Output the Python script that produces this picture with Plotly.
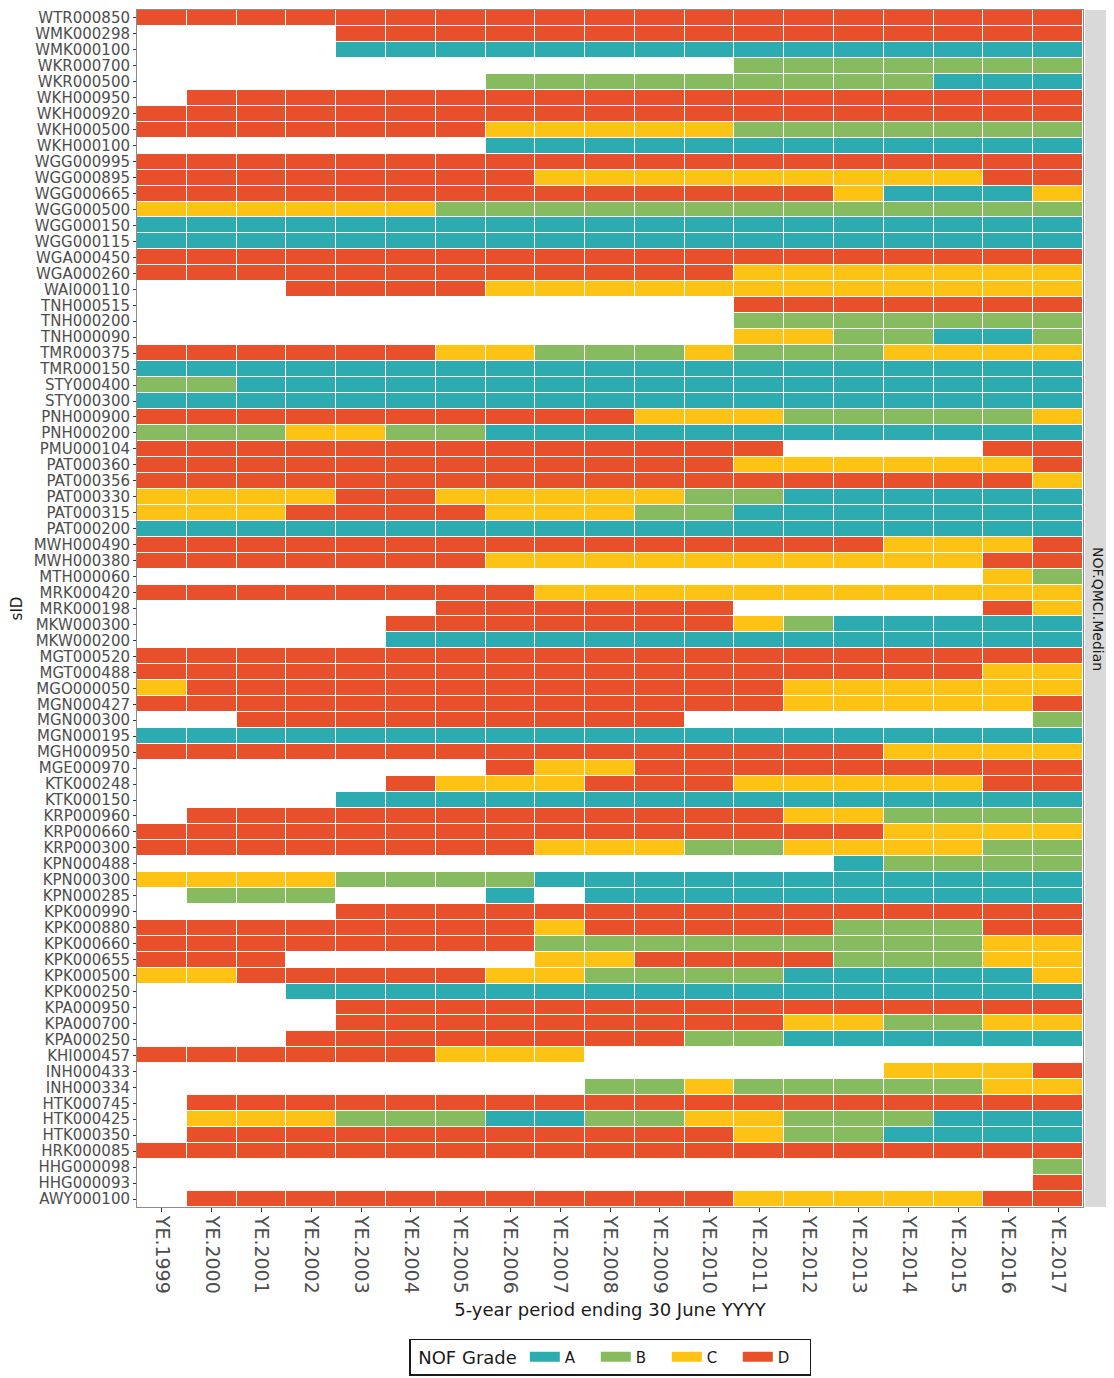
import plotly.graph_objects as go

site_ids = [
    "WTR000850", "WMK000298", "WMK000100", "WKR000700", "WKR000500", "WKH000950",
    "WKH000920", "WKH000500", "WKH000100", "WGG000995", "WGG000895", "WGG000665",
    "WGG000500", "WGG000150", "WGG000115", "WGA000450", "WGA000260", "WAI000110",
    "TNH000515", "TNH000200", "TNH000090", "TMR000375", "TMR000150", "STY000400",
    "STY000300", "PNH000900", "PNH000200", "PMU000104", "PAT000360", "PAT000356",
    "PAT000330", "PAT000315", "PAT000200", "MWH000490", "MWH000380", "MTH000060",
    "MRK000420", "MRK000198", "MKW000300", "MKW000200", "MGT000520", "MGT000488",
    "MGO000050", "MGN000427", "MGN000300", "MGN000195", "MGH000950", "MGE000970",
    "KTK000248", "KTK000150", "KRP000960", "KRP000660", "KRP000300", "KPN000488",
    "KPN000300", "KPN000285", "KPK000990", "KPK000880", "KPK000660", "KPK000655",
    "KPK000500", "KPK000250", "KPA000950", "KPA000700", "KPA000250", "KHI000457",
    "INH000433", "INH000334", "HTK000745", "HTK000425", "HTK000350", "HRK000085",
    "HHG000098", "HHG000093", "AWY000100",
]

periods = ["YE.%d" % y for y in range(1999, 2018)]

# One string per site, one character per period ('.' = no grade)
grades = [
    "DDDDDDDDDDDDDDDDDDD",  # WTR000850
    "....DDDDDDDDDDDDDDD",  # WMK000298
    "....AAAAAAAAAAAAAAA",  # WMK000100
    "............BBBBBBB",  # WKR000700
    ".......BBBBBBBBBAAA",  # WKR000500
    ".DDDDDDDDDDDDDDDDDD",  # WKH000950
    "DDDDDDDDDDDDDDDDDDD",  # WKH000920
    "DDDDDDDCCCCCBBBBBBB",  # WKH000500
    ".......AAAAAAAAAAAA",  # WKH000100
    "DDDDDDDDDDDDDDDDDDD",  # WGG000995
    "DDDDDDDDCCCCCCCCCDD",  # WGG000895
    "DDDDDDDDDDDDDDCAAAC",  # WGG000665
    "CCCCCCBBBBBBBBBBBBB",  # WGG000500
    "AAAAAAAAAAAAAAAAAAA",  # WGG000150
    "AAAAAAAAAAAAAAAAAAA",  # WGG000115
    "DDDDDDDDDDDDDDDDDDD",  # WGA000450
    "DDDDDDDDDDDDCCCCCCC",  # WGA000260
    "...DDDDCCCCCCCCCCCC",  # WAI000110
    "............DDDDDDD",  # TNH000515
    "............BBBBBBB",  # TNH000200
    "............CCBBAAB",  # TNH000090
    "DDDDDDCCBBBCBBBCCCC",  # TMR000375
    "AAAAAAAAAAAAAAAAAAA",  # TMR000150
    "BBAAAAAAAAAAAAAAAAA",  # STY000400
    "AAAAAAAAAAAAAAAAAAA",  # STY000300
    "DDDDDDDDDDCCCBBBBBC",  # PNH000900
    "BBBCCBBAAAAAAAAAAAA",  # PNH000200
    "DDDDDDDDDDDDD....DD",  # PMU000104
    "DDDDDDDDDDDDCCCCCCD",  # PAT000360
    "DDDDDDDDDDDDDDDDDDC",  # PAT000356
    "CCCCDDCCCCCBBAAAAAA",  # PAT000330
    "CCCDDDDCCCBBAAAAAAA",  # PAT000315
    "AAAAAAAAAAAAAAAAAAA",  # PAT000200
    "DDDDDDDDDDDDDDDCCCD",  # MWH000490
    "DDDDDDDCCCCCCCCCCDD",  # MWH000380
    ".................CB",  # MTH000060
    "DDDDDDDDCCCCCCCCCCC",  # MRK000420
    "......DDDDDD.....DC",  # MRK000198
    ".....DDDDDDDCBAAAAA",  # MKW000300
    ".....AAAAAAAAAAAAAA",  # MKW000200
    "DDDDDDDDDDDDDDDDDDD",  # MGT000520
    "DDDDDDDDDDDDDDDDDCC",  # MGT000488
    "CDDDDDDDDDDDDCCCCCC",  # MGO000050
    "DDDDDDDDDDDDDCCCCCD",  # MGN000427
    "..DDDDDDDDD.......B",  # MGN000300
    "AAAAAAAAAAAAAAAAAAA",  # MGN000195
    "DDDDDDDDDDDDDDDCCCC",  # MGH000950
    ".......DCCDDDDDDDDD",  # MGE000970
    ".....DCCCDDDCCCCCDD",  # KTK000248
    "....AAAAAAAAAAAAAAA",  # KTK000150
    ".DDDDDDDDDDDDCCBBBB",  # KRP000960
    "DDDDDDDDDDDDDDDCCCC",  # KRP000660
    "DDDDDDDDCCCBBCCCCBB",  # KRP000300
    "..............ABBBB",  # KPN000488
    "CCCCBBBBAAAAAAAAAAA",  # KPN000300
    ".BBB...A.AAAAAAAAAA",  # KPN000285
    "....DDDDDDDDDDDDDDD",  # KPK000990
    "DDDDDDDDCDDDDDBBBDD",  # KPK000880
    "DDDDDDDDBBBBBBBBBCC",  # KPK000660
    "DDD.....CCDDDDBBBCC",  # KPK000655
    "CCDDDDDCCBBBBAAAAAC",  # KPK000500
    "...AAAAAAAAAAAAAAAA",  # KPK000250
    "....DDDDDDDDDDDDDDD",  # KPA000950
    "....DDDDDDDDDCCBBCC",  # KPA000700
    "...DDDDDDDDBBAAAAAA",  # KPA000250
    "DDDDDDCCC..........",  # KHI000457
    "...............CCCD",  # INH000433
    ".........BBCBBBBBCC",  # INH000334
    ".DDDDDDDDDDDDDDDDDD",  # HTK000745
    ".CCCBBBAABBCCBBBAAA",  # HTK000425
    ".DDDDDDDDDDDCBBAAAA",  # HTK000350
    "DDDDDDDDDDDDDDDDDDD",  # HRK000085
    "..................B",  # HHG000098
    "..................D",  # HHG000093
    ".DDDDDDDDDDDCCCCCDD",  # AWY000100
]

grade_names = ["A", "B", "C", "D"]
grade_colors = ["#2CABB0", "#86BB5F", "#FDC314", "#E8502C"]

code = {g: i + 1 for i, g in enumerate(grade_names)}
z = [[code.get(ch) for ch in row] for row in grades]

n = len(grade_names)
colorscale = []
for i, c in enumerate(grade_colors):
    colorscale.append([i / n, c])
    colorscale.append([(i + 1) / n, c])

fig = go.Figure()
fig.add_trace(go.Heatmap(
    z=z, x=periods, y=site_ids,
    colorscale=colorscale, zmin=0.5, zmax=n + 0.5,
    showscale=False, xgap=1, ygap=1, hoverongaps=False,
    showlegend=False,
))

for g, c in zip(grade_names, grade_colors):
    fig.add_trace(go.Scatter(
        x=[None], y=[None], mode="lines", name=g,
        line=dict(color=c, width=13), showlegend=True,
    ))

axis_font = dict(family="DejaVu Sans", size=15, color="#4D4D4D")

fig.update_layout(
    width=1106, height=1370,
    margin=dict(l=129, r=31, t=2, b=171),
    paper_bgcolor="white", plot_bgcolor="white",
    font=dict(family="DejaVu Sans", color="#1A1A1A"),
    showlegend=True,
    legend=dict(
        orientation="h", xref="paper", x=0.5, xanchor="center",
        yref="container", y=0.0285, yanchor="top",
        title=dict(text="\u00a0NOF Grade", side="left",
                   font=dict(family="DejaVu Sans", size=18, color="#1A1A1A")),
        font=dict(family="DejaVu Sans", size=15, color="#1A1A1A"),
        bordercolor="#1A1A1A", borderwidth=1.5, bgcolor="white",
        itemwidth=30, entrywidth=26, entrywidthmode="pixels",
    ),
    xaxis=dict(
        type="category", categoryorder="array", categoryarray=periods,
        tickmode="array", tickvals=periods, ticktext=periods,
        tickangle=90, tickfont=dict(family="DejaVu Sans", size=19, color="#4D4D4D"),
        ticks="outside", ticklen=4, tickcolor="#333333",
        showgrid=False, zeroline=False,
        showline=True, linecolor="#8C8C8C", linewidth=1, mirror=True,
        title=dict(text="5-year period ending 30 June YYYY", standoff=10,
                   font=dict(family="DejaVu Sans", size=18, color="#1A1A1A")),
    ),
    yaxis=dict(
        type="category", categoryorder="array", categoryarray=site_ids,
        tickmode="array", tickvals=site_ids, ticktext=site_ids,
        autorange="reversed",
        tickfont=axis_font,
        ticks="outside", ticklen=3, tickcolor="#333333",
        showgrid=False, zeroline=False,
        showline=True, linecolor="#8C8C8C", linewidth=1, mirror=True,
        title=dict(text="sID", standoff=8,
                   font=dict(family="DejaVu Sans", size=15, color="#1A1A1A")),
    ),
    shapes=[dict(
        type="rect", xref="paper", yref="paper",
        x0=1.0021, x1=1.0307, y0=0, y1=1,
        fillcolor="#D9D9D9", line=dict(width=0), layer="below",
    )],
    annotations=[dict(
        text="NOF.QMCI.Median", xref="paper", yref="paper",
        x=1.0164, y=0.5, textangle=90, showarrow=False,
        xanchor="center", yanchor="middle",
        font=dict(family="DejaVu Sans", size=14, color="#1A1A1A"),
    )],
)

fig.write_html("out.html")
